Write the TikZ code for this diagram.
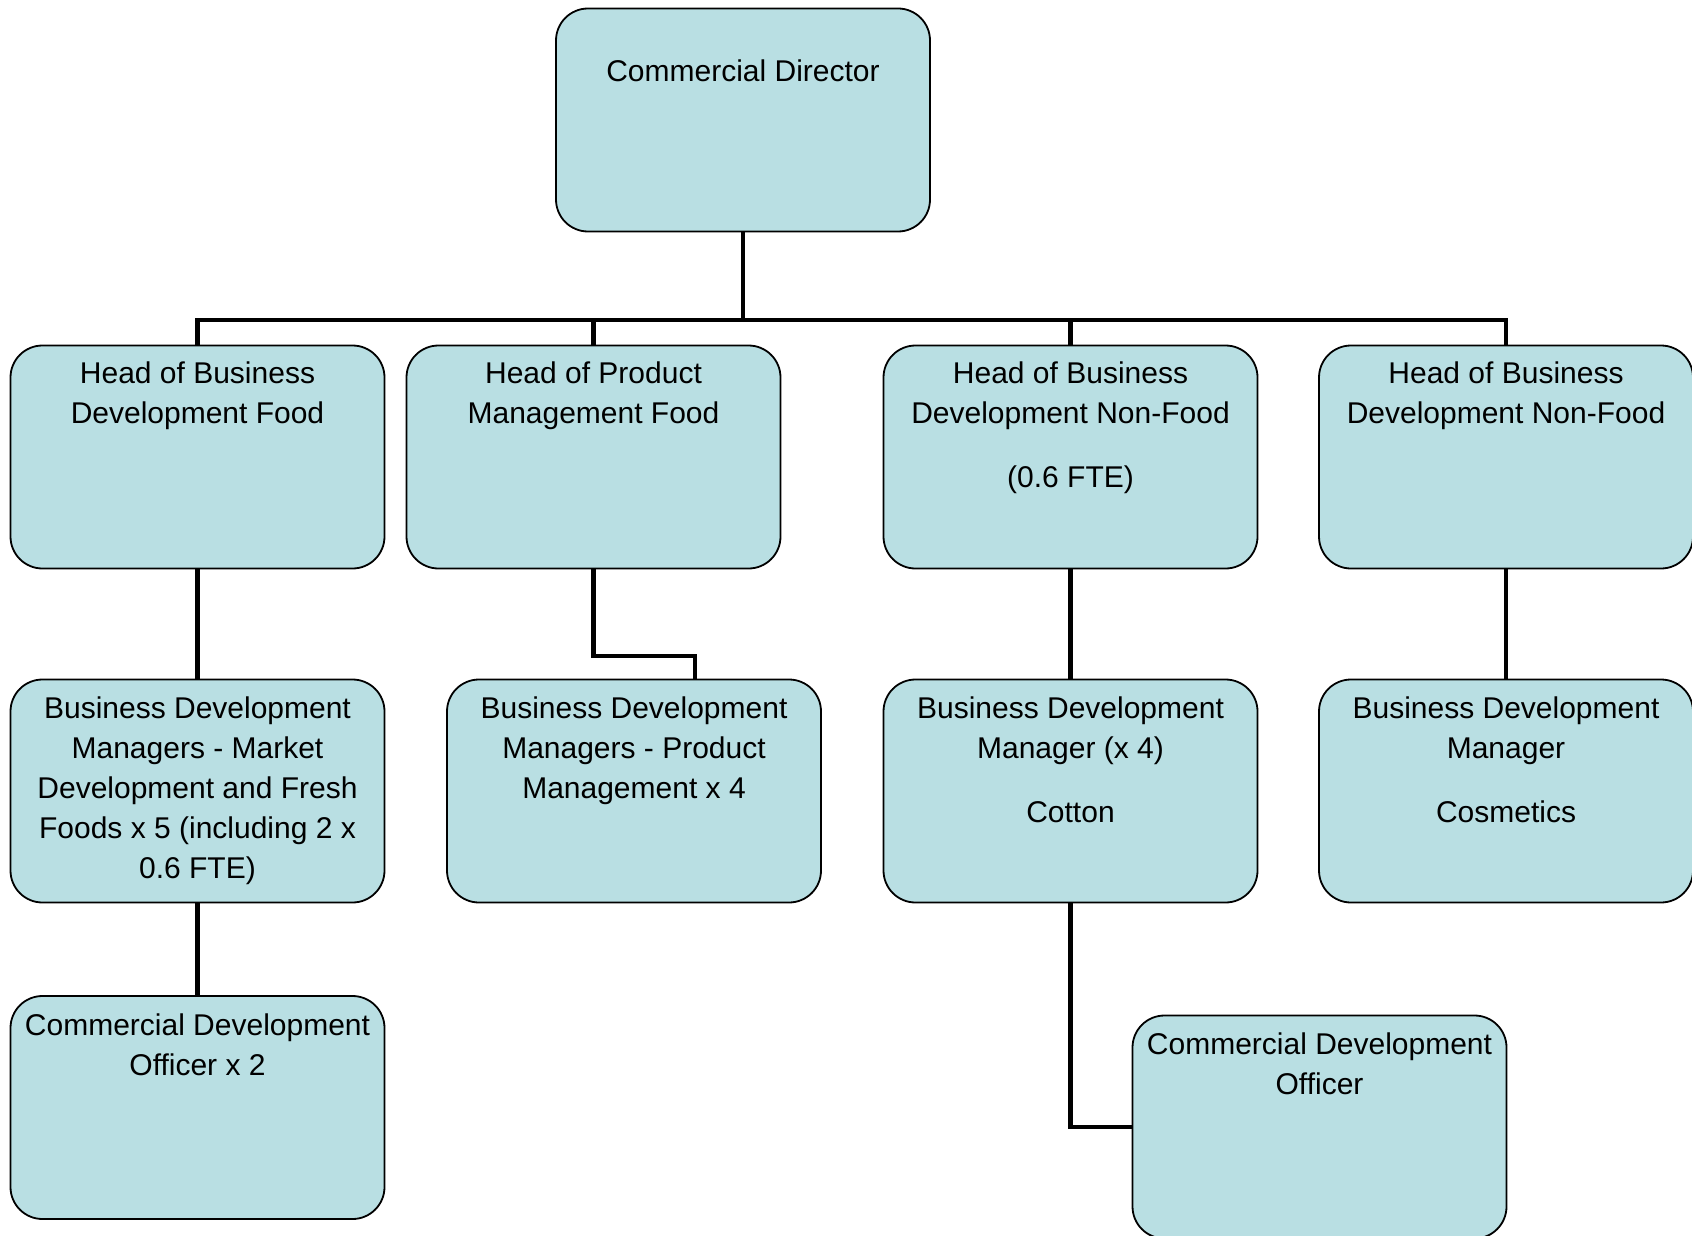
\documentclass[tikz,border=0pt]{standalone}
\usepackage{fontspec}
\setmainfont{Liberation Sans}
\usepackage{tikz}
\usetikzlibrary{positioning}
\definecolor{unitblue}{RGB}{185,223,227}

\begin{document}
\begin{tikzpicture}
            [every node/.style={inner sep=0pt},
             unit/.style={rectangle, rounded corners=16pt, minimum width=187pt, minimum height=111.5pt, fill=unitblue, line width=0.9pt, draw=black},
             title/.style={align=center, font=\fontsize{15}{20}\selectfont},
             link/.style={line width=2.4pt, color=black}]
                \useasboundingbox (0pt, 0pt) rectangle (846pt, -618pt);
                \node (cd) [unit] at (371.5pt, -60pt) {};
                \node (hf) [unit] at (98.75pt, -228.5pt) {};
                \node (hp) [unit] at (296.75pt, -228.5pt) {};
                \node (hn) [unit] at (535.25pt, -228.5pt) {};
                \node (hc) [unit] at (753pt, -228.5pt) {};
                \node (mf) [unit] at (98.75pt, -395.5pt) {};
                \node (mp) [unit] at (317pt, -395.5pt) {};
                \node (mc) [unit] at (535.25pt, -395.5pt) {};
                \node (mk) [unit] at (753pt, -395.5pt) {};
                \node (of) [unit] at (98.75pt, -553.75pt) {};
                \node (oc) [unit] at (659.75pt, -563.5pt) {};
                \coordinate (bus) at (371.5pt, -160pt);
                \coordinate (bend) at (296.75pt, -328pt);
                \node (cd-t) [title, below=26pt of cd.north] {Commercial Director};
                \node (hf-t) [title, below=8.5pt of hf.north] {Head of Business\\Development Food};
                \node (hp-t) [title, below=8.5pt of hp.north] {Head of Product\\Management Food};
                \node (hn-t) [title, below=8.5pt of hn.north] {Head of Business\\Development Non-Food\\[12pt](0.6 FTE)};
                \node (hc-t) [title, below=8.5pt of hc.north] {Head of Business\\Development Non-Food};
                \node (mf-t) [title, below=9pt of mf.north] {Business Development\\Managers - Market\\Development and Fresh\\Foods x 5 (including 2 x\\0.6 FTE)};
                \node (mp-t) [title, below=9pt of mp.north] {Business Development\\Managers - Product\\Management x 4};
                \node (mc-t) [title, below=9pt of mc.north] {Business Development\\Manager (x 4)\\[12pt]Cotton};
                \node (mk-t) [title, below=9pt of mk.north] {Business Development\\Manager\\[12pt]Cosmetics};
                \node (of-t) [title, below=9pt of of.north] {Commercial Development\\Officer x 2};
                \node (oc-t) [title, below=9pt of oc.north] {Commercial Development\\Officer};
                \foreach \h in {hf, hp, hn, hc}
                    \draw [link] (cd.south) -- (bus) -| (\h.north);
                \draw [link] (hf) to (mf);
                \draw [link] (mf) to (of);
                \draw [link] (hp.south) -- (bend) -| ([xshift=30.5pt]mp.north);
                \draw [link] (hn) to (mc);
                \draw [link] (hc) to (mk);
                \draw [link] (mc.south) |- (oc.west);
            \end{tikzpicture}
\end{document}
